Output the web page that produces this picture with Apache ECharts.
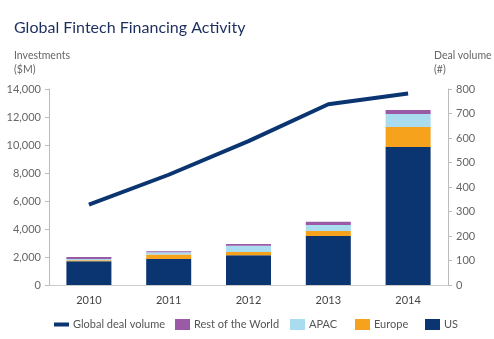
<!DOCTYPE html>
<html><head><meta charset="utf-8">
<script src="https://cdn.jsdelivr.net/npm/echarts@6/dist/echarts.min.js"></script>
<style>html,body{margin:0;padding:0;background:#fff}#c{width:494px;height:339px}</style>
</head><body><div id="c"></div>
<script>
var years = ['2010','2011','2012','2013','2014'];
var us = [1700, 1850, 2130, 3500, 9850];
var europe = [60, 320, 220, 360, 1430];
var apac = [100, 170, 450, 430, 930];
var rest = [140, 70, 120, 220, 290];
var dealVolume = [328, 450, 587, 738, 782];
var leftTicks = [0, 2000, 4000, 6000, 8000, 10000, 12000, 14000];
var rightTicks = [0, 100, 200, 300, 400, 500, 600, 700, 800];

var NAVY = '#0b3571', ORANGE = '#f6a21c', LBLUE = '#a9dcef', PURPLE = '#9a5aa6';
var FONT = 'Lato';
var chart = echarts.init(document.getElementById('c'));
function leg(name, left, h) {
  return {data: [name], left: left, top: 314, itemWidth: 15, itemHeight: h,
    icon: 'rect', textStyle: {color: '#555', fontSize: 11, fontFamily: FONT, padding: [0, 0, 0, -1]}, itemGap: 0,
    selectedMode: false};
}
chart.setOption({
  animation: false,
  textStyle: {fontFamily: FONT},
  title: [
    {text: 'Global Fintech Financing Activity', left: 9, top: 15,
      textStyle: {color: '#1d2f5e', fontSize: 16, fontWeight: 'normal', fontFamily: FONT}},
    {text: 'Investments\n($M)', left: 9, top: 44,
      textStyle: {color: '#666', fontSize: 10.5, fontWeight: 'normal', lineHeight: 14, fontFamily: FONT}},
    {text: 'Deal volume\n(#)', left: 429, top: 44,
      textStyle: {color: '#666', fontSize: 10.5, fontWeight: 'normal', lineHeight: 14, fontFamily: FONT}}
  ],
  legend: [
    leg('Global deal volume', 49, 4),
    leg('Rest of the World', 170, 11),
    leg('APAC', 285, 11),
    leg('Europe', 350, 11),
    leg('US', 420, 11)
  ],
  grid: {left: 49, right: 46, top: 89, bottom: 54},
  xAxis: {type: 'category', data: years,
    axisLine: {lineStyle: {color: '#ccc'}}, axisTick: {show: false},
    axisLabel: {color: '#444', fontSize: 11, margin: 10}},
  yAxis: [
    {type: 'value', min: leftTicks[0], max: leftTicks[leftTicks.length - 1], interval: 2000,
      axisLine: {show: true, lineStyle: {color: '#bbb'}}, axisTick: {show: true, length: 4, lineStyle: {color: '#bbb'}},
      splitLine: {show: false},
      axisLabel: {color: '#666', fontSize: 11, margin: 8,
        formatter: function (v) { return v.toLocaleString('en-US'); }}},
    {type: 'value', min: rightTicks[0], max: rightTicks[rightTicks.length - 1], interval: 100,
      position: 'right',
      axisLine: {show: true, lineStyle: {color: '#bbb'}}, axisTick: {show: true, length: 4, lineStyle: {color: '#bbb'}},
      splitLine: {show: false},
      axisLabel: {color: '#666', fontSize: 11, margin: 8}}
  ],
  series: [
    {name: 'US', type: 'bar', stack: 'inv', data: us, barWidth: 45, itemStyle: {color: NAVY}},
    {name: 'Europe', type: 'bar', stack: 'inv', data: europe, itemStyle: {color: ORANGE}},
    {name: 'APAC', type: 'bar', stack: 'inv', data: apac, itemStyle: {color: LBLUE}},
    {name: 'Rest of the World', type: 'bar', stack: 'inv', data: rest, itemStyle: {color: PURPLE}},
    {name: 'Global deal volume', type: 'line', yAxisIndex: 1, data: dealVolume,
      symbol: 'none', lineStyle: {color: NAVY, width: 4}, itemStyle: {color: NAVY}}
  ]
});
</script></body></html>
